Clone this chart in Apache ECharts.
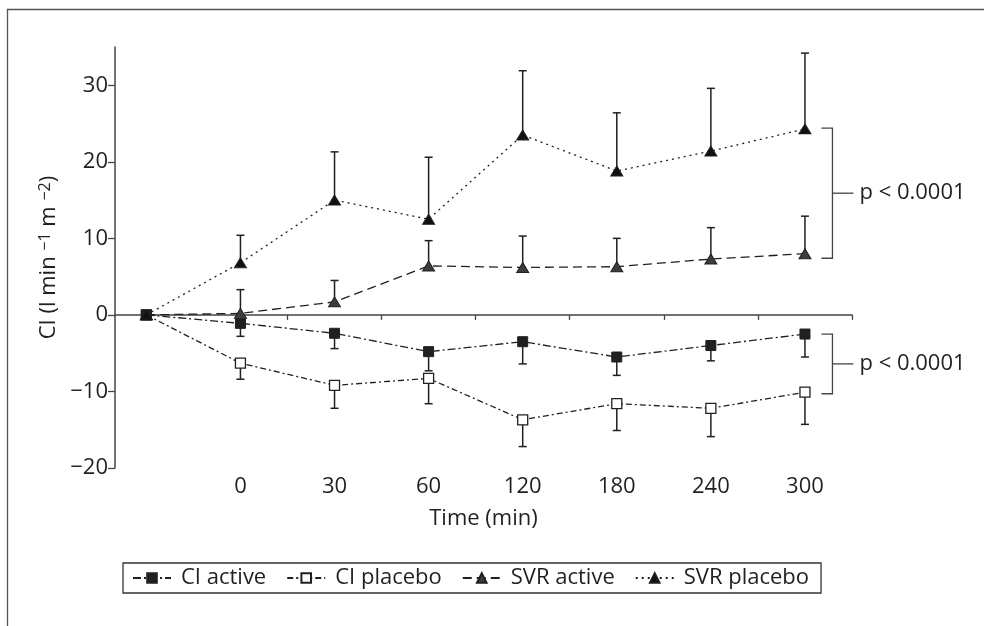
<!DOCTYPE html>
<html><head><meta charset="utf-8">
<script src="https://cdn.jsdelivr.net/npm/echarts@6/dist/echarts.min.js"></script>
<style>html,body{margin:0;padding:0;background:#fff}#c{width:984px;height:626px}</style>
</head><body><div id="c"></div>
<script>
// x categories: first point is the pre-treatment baseline (no label), then time points
const timeLabels = ['0', '30', '60', '120', '180', '240', '300'];
const seriesNames = ['CI active', 'CI placebo', 'SVR active', 'SVR placebo'];

// mean values: baseline, then 0..300 min
const ciActive   = [0, -1.1, -2.4, -4.8, -3.5, -5.5, -4.0, -2.5];
const ciPlacebo  = [0, -6.3, -9.2, -8.3, -13.7, -11.6, -12.2, -10.1];
const svrActive  = [0, 0.2, 1.7, 6.4, 6.2, 6.3, 7.3, 8.0];
const svrPlacebo = [0, 6.8, 15.0, 12.5, 23.5, 18.8, 21.4, 24.3];

// error bar ends (null = no bar)
const ciActiveErr   = [null, -2.8, -4.4, -7.3, -6.4, -7.9, -6.0, -5.5];
const ciPlaceboErr  = [null, -8.4, -12.2, -11.6, -17.2, -15.1, -15.9, -14.3];
const svrActiveErr  = [null, 3.3, 4.5, 9.7, 10.3, 10.0, 11.4, 12.9];
const svrPlaceboErr = [null, 10.4, 21.3, 20.6, 31.9, 26.4, 29.6, 34.2];

// significance brackets [top, bottom]
const pBrackets = [[24.4, 7.4], [-2.5, -10.3]];
const pLabel = 'p < 0.0001';

const yTicks = [-20, -10, 0, 10, 20, 30];

const INK = '#231f20';
const FONT = 'Open Sans';
const FS = 22;

function pts(arr) { return arr.map((v, i) => [i - 1, v]); }
function bars(vals, ends) {
  const out = [];
  vals.forEach((v, i) => { if (ends[i] != null) out.push([i - 1, v, ends[i]]); });
  return out;
}
const errData = [].concat(
  bars(ciActive, ciActiveErr), bars(ciPlacebo, ciPlaceboErr),
  bars(svrActive, svrActiveErr), bars(svrPlacebo, svrPlaceboErr));
const lastX = timeLabels.length - 1;

const chart = echarts.init(document.getElementById('c'));
const tickPos = timeLabels.map((_, i) => i + 0.5);
const labelPos = timeLabels.map((_, i) => i);

chart.setOption({
  animation: false,
  textStyle: { fontFamily: FONT, color: INK },
  graphic: [{
    type: 'rect', silent: true, z: -10,
    shape: { x: 7.5, y: 9.5, width: 1000, height: 700 },
    style: { fill: 'none', stroke: '#555', lineWidth: 1.3 }
  }],
  grid: { left: 115, right: 132, top: 47, bottom: 158 },
  xAxis: [{
    type: 'value', min: -4 / 3, max: 6.5,
    position: 'bottom',
    axisLine: { show: true, onZero: true, lineStyle: { color: '#444', width: 1.5 } },
    axisTick: { show: true, customValues: tickPos, length: 5, lineStyle: { color: '#444', width: 1.3 } },
    axisLabel: { show: false },
    splitLine: { show: false }
  }, {
    type: 'value', min: -4 / 3, max: 6.5,
    position: 'bottom',
    axisLine: { show: false, onZero: false },
    axisTick: { show: false },
    axisLabel: {
      show: true, customValues: labelPos, margin: 8,
      fontSize: FS, fontFamily: FONT, color: INK,
      formatter: v => timeLabels[Math.round(v)]
    },
    splitLine: { show: false },
    name: 'Time (min)', nameLocation: 'middle', nameGap: 40,
    nameTextStyle: { fontSize: FS, fontFamily: FONT, color: INK }
  }],
  yAxis: {
    type: 'value', min: -20, max: 35,
    axisLine: { show: true, onZero: false, lineStyle: { color: '#444', width: 1.5 } },
    axisTick: { show: true, customValues: yTicks, length: 7, lineStyle: { color: '#444', width: 1.3 } },
    axisLabel: {
      customValues: yTicks, margin: 7,
      fontSize: FS, fontFamily: FONT, color: INK,
      formatter: v => v < 0 ? '\u2212' + (-v) : String(v)
    },
    splitLine: { show: false },
    name: 'CI (l min {sup|\u22121} m {sup|\u22122})',
    nameLocation: 'middle', nameGap: 52, nameRotate: 90,
    nameTextStyle: {
      fontSize: FS, fontFamily: FONT, color: INK,
      rich: { sup: { fontSize: 16, fontFamily: FONT, color: INK, verticalAlign: 'top', padding: [0, 0, 6, 0] } }
    }
  },
  legend: {
    data: seriesNames,
    left: 123, top: 563,
    padding: [4, 12, 4, 9],
    borderColor: '#333', borderWidth: 1.3,
    itemWidth: 38, itemHeight: 12, itemGap: 20,
    textStyle: { fontSize: FS, fontFamily: FONT, color: INK, padding: [0, 0, 0, 5] }
  },
  series: [
    {
      name: 'CI placebo', type: 'line', data: pts(ciPlacebo), z: 3,
      symbol: 'rect', symbolSize: 10,
      itemStyle: { color: '#fff', borderColor: INK, borderWidth: 1.3 },
      lineStyle: { color: INK, width: 1.3, type: [6, 3, 2, 3] }
    },
    {
      name: 'CI active', type: 'line', data: pts(ciActive), z: 3,
      symbol: 'rect', symbolSize: 10,
      itemStyle: { color: INK, borderColor: INK, borderWidth: 1 },
      lineStyle: { color: INK, width: 1.3, type: [8, 3, 2, 3] }
    },
    {
      name: 'SVR active', type: 'line', data: pts(svrActive), z: 4,
      symbol: 'triangle', symbolSize: [12, 10],
      itemStyle: { color: '#3c3c3c', borderColor: INK, borderWidth: 1 },
      lineStyle: { color: INK, width: 1.3, type: [9, 5] }
    },
    {
      name: 'SVR placebo', type: 'line', data: pts(svrPlacebo), z: 4,
      symbol: 'triangle', symbolSize: [12, 10],
      itemStyle: { color: '#111', borderColor: INK, borderWidth: 1 },
      lineStyle: { color: INK, width: 1.3, type: [2, 4] }
    },
    {
      name: 'errors', type: 'custom', silent: true, z: 2,
      data: errData,
      encode: { x: 0, y: [1, 2] },
      renderItem: function (params, api) {
        const x = api.value(0), v = api.value(1), e = api.value(2);
        const p0 = api.coord([x, v]), p1 = api.coord([x, e]);
        return {
          type: 'group', children: [
            { type: 'line', shape: { x1: p0[0], y1: p0[1], x2: p1[0], y2: p1[1] }, style: { stroke: INK, lineWidth: 1.5 } },
            { type: 'line', shape: { x1: p1[0] - 4, y1: p1[1], x2: p1[0] + 4, y2: p1[1] }, style: { stroke: INK, lineWidth: 1.5 } }
          ]
        };
      }
    },
    {
      name: 'brackets', type: 'custom', silent: true, z: 2,
      data: pBrackets.map(b => [lastX, b[0], b[1]]),
      encode: { x: 0, y: [1, 2] },
      renderItem: function (params, api) {
        const x = api.value(0);
        const pt = api.coord([x, api.value(1)]), pb = api.coord([x, api.value(2)]);
        const vx = pt[0] + 27.5, ym = (pt[1] + pb[1]) / 2;
        const st = { stroke: '#444', lineWidth: 1.3, fill: 'none' };
        return {
          type: 'group', children: [
            { type: 'polyline', shape: { points: [[vx - 11, pt[1]], [vx, pt[1]], [vx, pb[1]], [vx - 11, pb[1]]] }, style: st },
            { type: 'line', shape: { x1: vx, y1: ym, x2: vx + 21, y2: ym }, style: st },
            { type: 'text', x: vx + 27, y: ym, style: { text: pLabel, fontSize: FS, fontFamily: FONT, fill: INK, verticalAlign: 'middle', align: 'left' } }
          ]
        };
      }
    }
  ]
});
</script></body></html>
